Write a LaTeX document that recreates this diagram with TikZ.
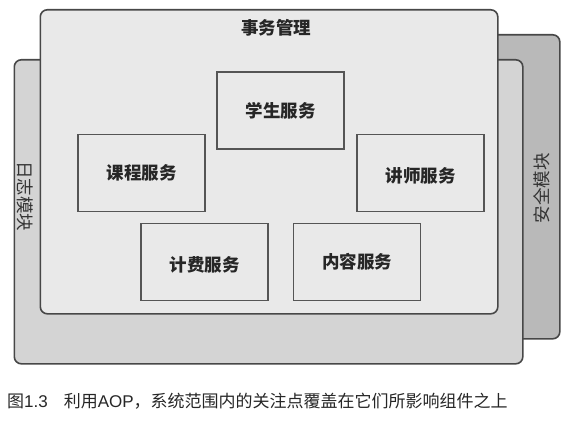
\documentclass[tikz,border=0pt]{standalone}
\usepackage{fontspec}
\newfontfamily\cjk{Noto Sans CJK SC}
\newfontfamily\lat{Liberation Sans}
\definecolor{mainfill}{HTML}{E9E9E9}
\definecolor{logfill}{HTML}{D4D4D4}
\definecolor{secfill}{HTML}{B9B9B9}
\definecolor{edge}{HTML}{474747}
\definecolor{boxedge}{HTML}{555555}
\tikzset{
  layer/.style={draw=edge, line width=1.6pt, rounded corners=7pt, inner sep=0pt, anchor=north west},
  svc/.style={draw=boxedge, line width=1.4pt, fill=mainfill, minimum width=127pt, minimum height=77pt, inner sep=0pt, font=\cjk\bfseries\fontsize{17.5}{17.5}\selectfont, text=black!85},
  side/.style={font=\cjk\fontsize{17.5}{17.5}\selectfont, text=black!80, inner sep=0pt},
}
\begin{document}
\begin{tikzpicture}[x=1pt,y=-1pt]
\useasboundingbox (0,0) rectangle (577,425);
% security layer
\node[layer, fill=secfill, minimum width=79pt, minimum height=304pt] (sec) at (480,34) {};
% log layer
\node[layer, fill=logfill, minimum width=508.5pt, minimum height=304pt] (log) at (13.5,59) {};
% main layer
\node[layer, fill=mainfill, minimum width=457.5pt, minimum height=304pt] (main) at (39.5,9) {};
\node[font=\cjk\bfseries\fontsize{17.5}{17.5}\selectfont, text=black!85, inner sep=0pt] (title) at (276,28) {事务管理};
\node[side, rotate=-90] (loglbl) at (25,196) {日志模块};
\node[side, rotate=90] (seclbl) at (542,188) {安全模块};
% services
\node[svc] (stu) at (280.5,110.5) {学生服务};
\node[svc] (course) at (141.5,173) {课程服务};
\node[svc, text depth=0pt] (teach) at (420.5,173) {\raisebox{-3pt}{讲师服务}};
\node[svc, text depth=0pt] (bill) at (204.5,262) {\raisebox{-4pt}{计费服务}};
\node[svc] (cont) at (357,262) {内容服务};
% caption
\node[anchor=west, inner sep=0pt, text=black!85, font=\fontsize{17}{17}\selectfont] (cap) at (7,401)
  {{\cjk 图}{\lat 1.3}\hspace{16pt}{\cjk 利用}{\lat AOP}{\cjk ，系统范围内的关注点覆盖在它们所影响组件之上}};
\end{tikzpicture}
\end{document}
